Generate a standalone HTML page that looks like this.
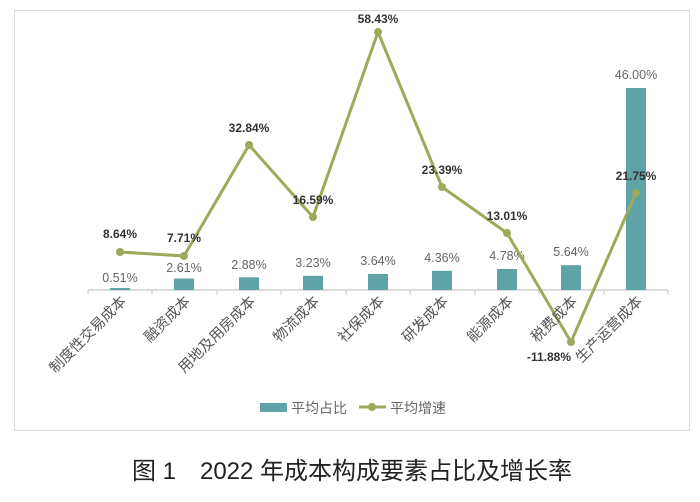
<!DOCTYPE html>
<html><head><meta charset="utf-8"><style>
body{margin:0;background:#fff;width:700px;height:497px;overflow:hidden}
text{font-family:"Liberation Sans","Noto Sans CJK SC",sans-serif}
</style></head><body>
<svg width="700" height="497" viewBox="0 0 700 497">
<rect x="14.5" y="10.5" width="675" height="420" fill="#fff" stroke="#d9d9d9" stroke-width="1"/>
<line x1="88" y1="290" x2="668" y2="290" stroke="#c8c8c8" stroke-width="1.2"/>
<g stroke="#c8c8c8">
<line x1="88" y1="290" x2="88" y2="295"/><line x1="152" y1="290" x2="152" y2="295"/><line x1="217" y1="290" x2="217" y2="295"/><line x1="281" y1="290" x2="281" y2="295"/><line x1="346" y1="290" x2="346" y2="295"/><line x1="410" y1="290" x2="410" y2="295"/><line x1="475" y1="290" x2="475" y2="295"/><line x1="539" y1="290" x2="539" y2="295"/><line x1="604" y1="290" x2="604" y2="295"/><line x1="668" y1="290" x2="668" y2="295"/>
</g>
<g fill="#5fa3a6">
<rect x="110" y="288" width="20" height="2"/>
<rect x="174" y="278.5" width="20" height="11.5"/>
<rect x="239" y="277.3" width="20" height="12.7"/>
<rect x="303" y="275.8" width="20" height="14.2"/>
<rect x="368" y="274" width="20" height="16"/>
<rect x="432" y="270.8" width="20" height="19.2"/>
<rect x="497" y="269" width="20" height="21"/>
<rect x="561" y="265.2" width="20" height="24.8"/>
<rect x="626" y="88" width="20" height="202"/>
</g>
<g font-size="12.5" fill="#666" text-anchor="middle">
<text x="120" y="282">0.51%</text><text x="184" y="272">2.61%</text><text x="249" y="269">2.88%</text><text x="313" y="267">3.23%</text><text x="378" y="265">3.64%</text><text x="442" y="262">4.36%</text><text x="507" y="260">4.78%</text><text x="571" y="256">5.64%</text><text x="636" y="79">46.00%</text>
</g>
<polyline points="120,252 184,256 249,145 313,217 378,32 442,187 507,233 571,342 636,193" fill="none" stroke="#9aab5a" stroke-width="3" stroke-linejoin="round"/>
<g fill="#9aab5a">
<circle cx="120" cy="252" r="4"/><circle cx="184" cy="256" r="4"/><circle cx="249" cy="145" r="4"/><circle cx="313" cy="217" r="4"/><circle cx="378" cy="32" r="4"/><circle cx="442" cy="187" r="4"/><circle cx="507" cy="233" r="4"/><circle cx="571" cy="342" r="4"/><circle cx="636" cy="193" r="4"/>
</g>
<g font-size="12" font-weight="bold" fill="#333" text-anchor="middle">
<text x="120" y="238">8.64%</text><text x="184" y="242">7.71%</text><text x="249" y="132">32.84%</text><text x="313" y="204">16.59%</text><text x="378" y="23">58.43%</text><text x="442" y="174">23.39%</text><text x="507" y="220">13.01%</text><text x="549" y="361">-11.88%</text><text x="636" y="180">21.75%</text>
</g>
<g font-size="14.5" fill="#555" text-anchor="end">
<text transform="translate(127,302) rotate(-45)">制度性交易成本</text>
<text transform="translate(191,302) rotate(-45)">融资成本</text>
<text transform="translate(256,302) rotate(-45)">用地及用房成本</text>
<text transform="translate(320,302) rotate(-45)">物流成本</text>
<text transform="translate(385,302) rotate(-45)">社保成本</text>
<text transform="translate(449,302) rotate(-45)">研发成本</text>
<text transform="translate(514,302) rotate(-45)">能源成本</text>
<text transform="translate(578,302) rotate(-45)">税费成本</text>
<text transform="translate(643,302) rotate(-45)">生产运营成本</text>
</g>
<rect x="260" y="403" width="27" height="9" fill="#5fa3a6"/>
<text x="291" y="413" font-size="14" fill="#666">平均占比</text>
<line x1="359" y1="407" x2="386" y2="407" stroke="#9aab5a" stroke-width="3"/>
<circle cx="372" cy="407" r="4" fill="#9aab5a"/>
<text x="390" y="413" font-size="14" fill="#666">平均增速</text>
<text x="352" y="479" font-size="24" fill="#222" text-anchor="middle">图 1　2022 年成本构成要素占比及增长率</text>
</svg>
</body></html>
